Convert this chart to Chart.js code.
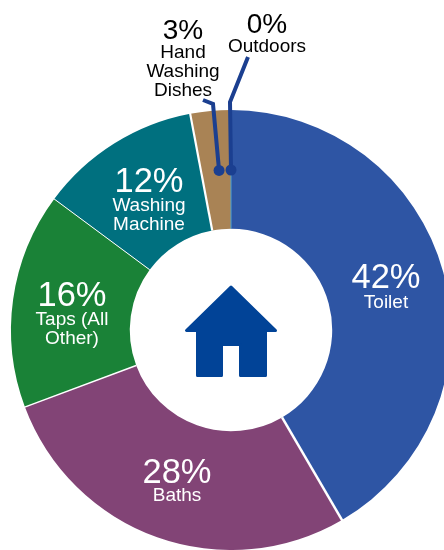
<!DOCTYPE html>
<html>
<head>
<meta charset="utf-8">
<title>Household water use</title>
<script src="https://cdn.jsdelivr.net/npm/chart.js@4/dist/chart.umd.min.js"></script>
<style>
    html, body { margin: 0; padding: 0; background: #fff; overflow: hidden; }
    canvas { display: block; }
</style>
</head>
<body>
<canvas id="waterChart" width="460" height="550"></canvas>
<script>
const categories = ["Toilet", "Baths", "Taps (All Other)", "Washing Machine", "Hand Washing Dishes", "Outdoors"];
const shares = [42, 28, 16, 12, 3, 0];
const colors = ["#2e55a4", "#824476", "#1a8237", "#00707f", "#a98355", "#4fa3d1"];

const FONT = '"Liberation Sans", Arial, sans-serif';
const LEADER = "#1b3f90";

// label placement relative to the ring centre: [x, percent baseline, first name baseline]
const labelSpots = [
    { x: 155, pct: -42, lines: ["Toilet"], y: -22, color: "#fff" },
    { x: -54, pct: 153, lines: ["Baths"], y: 171, color: "#fff" },
    { x: -159, pct: -24, lines: ["Taps (All", "Other)"], y: -5, color: "#fff" },
    { x: -82, pct: -138, lines: ["Washing", "Machine"], y: -119, color: "#fff" },
    { x: -48, pct: -291, lines: ["Hand", "Washing", "Dishes"], y: -272, color: "#000", small: true },
    { x: 36, pct: -297, lines: ["Outdoors"], y: -278, color: "#000", small: true },
];

// leaders start on the slice and bend out to the names above the ring
const leaderRuns = {
    4: { along: 0.6, radius: 160, bends: [[-18, -226], [-28, -230]] },
    5: { along: 0, radius: 160, bends: [[-1, -228], [17, -273]] },
};

// white gaps after each slice
const gapWidths = [2.5, 1.5, 1, 2.2, 0, 0];

function drawHouse(ctx, cx, cy) {
    ctx.save();
    ctx.translate(cx, cy);
    ctx.fillStyle = "#014397";
    ctx.strokeStyle = "#014397";
    ctx.lineWidth = 3;
    ctx.lineJoin = "round";
    ctx.beginPath();
    ctx.moveTo(0, -43);
    ctx.lineTo(-44.5, 0.5);
    ctx.lineTo(-33.5, 0.5);
    ctx.lineTo(-33.5, 45.5);
    ctx.lineTo(-9.5, 45.5);
    ctx.lineTo(-9.5, 14.5);
    ctx.lineTo(9.5, 14.5);
    ctx.lineTo(9.5, 45.5);
    ctx.lineTo(34.5, 45.5);
    ctx.lineTo(34.5, 0.5);
    ctx.lineTo(44.5, 0.5);
    ctx.closePath();
    ctx.fill();
    ctx.stroke();
    ctx.restore();
}

const ringOverlay = {
    id: "ringOverlay",
    afterDatasetsDraw(chart) {
        const ctx = chart.ctx;
        const arcs = chart.getDatasetMeta(0).data;
        const { x: cx, y: cy } = arcs[0].getProps(["x", "y"], true);

        ctx.save();
        ctx.lineCap = "butt";

        // separators between slices
        arcs.forEach((arc, i) => {
            if (!gapWidths[i]) return;
            const { endAngle, innerRadius, outerRadius } = arc.getProps(["endAngle", "innerRadius", "outerRadius"], true);
            ctx.strokeStyle = "#fff";
            ctx.lineWidth = gapWidths[i];
            ctx.beginPath();
            ctx.moveTo(cx + Math.cos(endAngle) * innerRadius, cy + Math.sin(endAngle) * innerRadius);
            ctx.lineTo(cx + Math.cos(endAngle) * (outerRadius + 1), cy + Math.sin(endAngle) * (outerRadius + 1));
            ctx.stroke();
        });

        // the empty slice only shows as a hairline
        const last = arcs[arcs.length - 1].getProps(["startAngle", "innerRadius", "outerRadius"], true);
        ctx.strokeStyle = colors[colors.length - 1];
        ctx.lineWidth = 1;
        ctx.beginPath();
        ctx.moveTo(cx + Math.cos(last.startAngle) * last.innerRadius, cy + Math.sin(last.startAngle) * last.innerRadius);
        ctx.lineTo(cx + Math.cos(last.startAngle) * last.outerRadius, cy + Math.sin(last.startAngle) * last.outerRadius);
        ctx.stroke();

        // leaders
        Object.keys(leaderRuns).forEach((key) => {
            const run = leaderRuns[key];
            const { startAngle, endAngle } = arcs[key].getProps(["startAngle", "endAngle"], true);
            const angle = startAngle + (endAngle - startAngle) * run.along;
            const dotX = cx + Math.cos(angle) * run.radius;
            const dotY = cy + Math.sin(angle) * run.radius;
            ctx.strokeStyle = LEADER;
            ctx.fillStyle = LEADER;
            ctx.lineWidth = 4;
            ctx.lineJoin = "miter";
            ctx.beginPath();
            ctx.moveTo(dotX, dotY);
            run.bends.forEach((b) => ctx.lineTo(cx + b[0], cy + b[1]));
            ctx.stroke();
            ctx.beginPath();
            ctx.arc(dotX, dotY, 5.5, 0, Math.PI * 2);
            ctx.fill();
        });

        // slice labels
        ctx.textAlign = "center";
        ctx.textBaseline = "alphabetic";
        labelSpots.forEach((spot, i) => {
            ctx.fillStyle = spot.color;
            ctx.font = `${spot.small ? 28 : 34.5}px ${FONT}`;
            ctx.fillText(`${shares[i]}%`, cx + spot.x, cy + spot.pct);
            ctx.font = `19px ${FONT}`;
            spot.lines.forEach((line, n) => ctx.fillText(line, cx + spot.x, cy + spot.y + n * 19));
        });
        ctx.restore();

        drawHouse(ctx, cx, cy);
    },
};

new Chart(document.getElementById("waterChart").getContext("2d"), {
    type: "doughnut",
    data: {
        labels: categories,
        datasets: [
            {
                data: shares,
                backgroundColor: colors,
                borderWidth: 0,
            },
        ],
    },
    options: {
        responsive: false,
        animation: false,
        cutout: "46%",
        layout: { padding: { top: 110, bottom: 0, left: 11, right: 9 } },
        plugins: {
            legend: { display: false },
            tooltip: { enabled: false },
        },
    },
    plugins: [ringOverlay],
});
</script>
</body>
</html>
